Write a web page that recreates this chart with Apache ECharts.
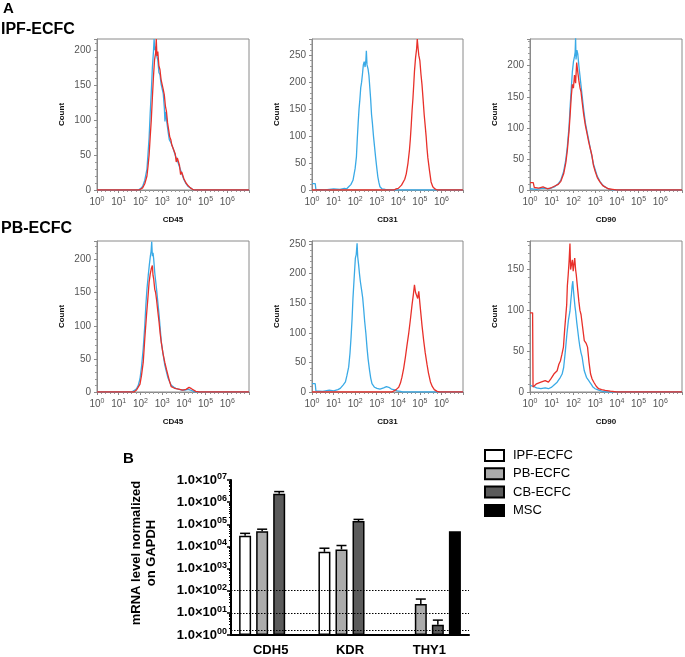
<!DOCTYPE html>
<html><head><meta charset="utf-8">
<script src="https://cdn.jsdelivr.net/npm/echarts@6/dist/echarts.min.js"></script>
<style>html,body{margin:0;padding:0;background:#fff}#c{width:685px;height:657px}</style>
</head><body><div id="c"></div>
<script>
// ---------- Panel A: flow cytometry histograms (x = log10 fluorescence, y = count) ----------
const ipfCd45Blue = [[0,0],[1.9,0],[2.0,2],[2.1,5],[2.2,14],[2.3,30],[2.35,52],[2.4,75],[2.45,110],[2.5,140],[2.55,175],[2.6,198],[2.63,216],[2.66,200],[2.7,205],[2.75,192],[2.8,186],[2.85,168],[2.9,165],[2.95,152],[3.0,150],[3.05,138],[3.1,118],[3.13,98],[3.17,112],[3.22,96],[3.28,82],[3.33,72],[3.4,68],[3.45,64],[3.5,60],[3.6,50],[3.7,42],[3.8,33],[3.9,24],[4.0,15],[4.1,9],[4.2,5],[4.3,3],[4.4,1],[4.5,0],[7,0]];
const ipfCd45Red = [[0,0],[1.9,0],[2.0,1],[2.1,3],[2.2,9],[2.3,20],[2.35,34],[2.4,50],[2.45,76],[2.5,100],[2.55,132],[2.6,162],[2.65,186],[2.7,196],[2.73,216],[2.76,192],[2.8,198],[2.85,178],[2.9,172],[2.95,158],[3.0,156],[3.05,144],[3.1,136],[3.15,120],[3.2,112],[3.25,96],[3.3,86],[3.35,76],[3.4,72],[3.45,64],[3.5,62],[3.6,52],[3.65,40],[3.7,46],[3.8,35],[3.85,22],[3.9,26],[4.0,16],[4.1,10],[4.2,6],[4.3,3],[4.4,1],[4.5,0],[7,0]];
const ipfCd31Blue = [[0,12],[0.15,12],[0.18,1],[0.6,0],[1.0,2],[1.3,1],[1.5,3],[1.6,2],[1.7,6],[1.8,10],[1.9,18],[2.0,40],[2.06,62],[2.1,95],[2.14,124],[2.18,150],[2.22,168],[2.26,190],[2.3,200],[2.34,215],[2.38,232],[2.42,238],[2.46,228],[2.5,242],[2.52,258],[2.55,232],[2.6,224],[2.64,212],[2.68,190],[2.72,168],[2.76,140],[2.8,124],[2.85,100],[2.9,80],[2.95,60],[3.0,42],[3.05,25],[3.1,14],[3.15,6],[3.25,2],[3.4,1],[3.6,0],[7,0]];
const ipfCd31Red = [[0,0],[3.8,0],[3.9,2],[4.0,3],[4.06,5],[4.15,9],[4.2,12],[4.3,20],[4.37,30],[4.45,50],[4.52,75],[4.56,95],[4.6,120],[4.64,148],[4.68,170],[4.72,198],[4.75,220],[4.8,245],[4.85,262],[4.88,280],[4.92,262],[4.95,250],[5.0,240],[5.05,215],[5.1,195],[5.15,168],[5.2,140],[5.25,118],[5.29,100],[5.33,78],[5.37,60],[5.45,35],[5.52,15],[5.6,6],[5.7,2],[5.8,0],[7,0]];
const ipfCd90Blue = [[0,2],[0.3,1],[0.6,3],[0.9,2],[1.12,5],[1.3,10],[1.42,16],[1.55,30],[1.65,49],[1.72,70],[1.8,103],[1.85,135],[1.9,163],[1.95,190],[2.0,206],[2.05,215],[2.08,222],[2.1,245],[2.12,210],[2.16,225],[2.2,219],[2.25,200],[2.3,184],[2.35,168],[2.4,152],[2.47,130],[2.55,108],[2.62,95],[2.7,81],[2.78,66],[2.85,54],[2.92,42],[3.0,33],[3.1,22],[3.22,14],[3.35,8],[3.45,5],[3.6,2],[3.8,0],[7,0]];
const ipfCd90Red = [[0,12],[0.15,12],[0.2,4],[0.4,3],[0.6,5],[0.8,2],[1.0,4],[1.12,6],[1.3,9],[1.42,14],[1.55,26],[1.65,44],[1.72,64],[1.8,96],[1.85,122],[1.9,150],[1.95,170],[2.0,164],[2.05,185],[2.1,172],[2.15,205],[2.2,190],[2.25,176],[2.3,165],[2.35,158],[2.4,142],[2.47,122],[2.55,104],[2.62,92],[2.7,78],[2.78,66],[2.85,56],[2.92,40],[3.0,30],[3.1,20],[3.22,13],[3.35,7],[3.45,5],[3.6,2],[3.8,1],[4.0,0],[7,0]];
const pbCd45Blue = [[0,0],[1.6,0],[1.7,2],[1.82,5],[1.9,10],[1.98,20],[2.05,38],[2.13,66],[2.2,100],[2.25,131],[2.3,155],[2.36,176],[2.41,192],[2.46,206],[2.49,212],[2.52,227],[2.55,205],[2.58,210],[2.61,201],[2.66,180],[2.7,168],[2.74,156],[2.8,136],[2.86,116],[2.91,96],[2.96,76],[3.04,58],[3.12,41],[3.2,30],[3.27,21],[3.35,15],[3.42,10],[3.55,7],[3.65,5],[3.8,4],[3.9,3],[4.05,3],[4.2,4],[4.3,3],[4.45,1],[4.6,0],[7,0]];
const pbCd45Red = [[0,0],[1.7,0],[1.82,3],[1.98,12],[2.05,25],[2.13,45],[2.2,80],[2.28,116],[2.34,140],[2.4,166],[2.45,178],[2.5,186],[2.55,191],[2.58,176],[2.61,171],[2.66,155],[2.7,150],[2.74,140],[2.8,122],[2.86,105],[2.91,88],[2.96,75],[3.04,58],[3.12,45],[3.2,34],[3.27,25],[3.35,15],[3.42,8],[3.55,6],[3.65,5],[3.8,4],[3.95,3],[4.1,4],[4.18,5],[4.24,7],[4.29,7],[4.35,5],[4.41,3],[4.55,1],[4.7,0],[7,0]];
const pbCd31Blue = [[0,14],[0.15,14],[0.18,2],[0.5,1],[0.8,3],[1.0,2],[1.2,4],[1.31,6],[1.45,12],[1.55,17],[1.62,28],[1.7,42],[1.76,65],[1.81,92],[1.86,125],[1.9,159],[1.95,190],[2.01,226],[2.05,232],[2.09,251],[2.12,228],[2.16,215],[2.2,200],[2.24,187],[2.3,172],[2.35,159],[2.4,138],[2.44,120],[2.5,98],[2.55,75],[2.6,56],[2.67,36],[2.72,24],[2.78,14],[2.9,8],[3.01,6],[3.15,5],[3.32,7],[3.45,9],[3.56,8],[3.68,5],[3.79,4],[3.95,2],[4.1,1],[4.2,0],[7,0]];
const pbCd31Red = [[0,0],[3.7,0],[3.79,1],[3.9,4],[4.02,8],[4.1,15],[4.17,25],[4.25,40],[4.33,59],[4.4,78],[4.48,98],[4.56,122],[4.64,148],[4.7,165],[4.75,181],[4.8,168],[4.84,170],[4.9,158],[4.95,170],[5.0,150],[5.05,131],[5.1,112],[5.18,86],[5.25,66],[5.33,47],[5.4,32],[5.49,17],[5.58,9],[5.67,4],[5.8,1],[5.9,0],[7,0]];
const pbCd90Blue = [[0,8],[0.15,7],[0.3,5],[0.5,4],[0.7,5],[0.85,4],[1.0,6],[1.12,9],[1.25,12],[1.4,18],[1.48,22],[1.55,30],[1.62,48],[1.7,71],[1.77,88],[1.84,99],[1.88,112],[1.91,120],[1.94,130],[1.97,136],[2.0,125],[2.03,116],[2.07,105],[2.1,99],[2.15,86],[2.2,75],[2.25,64],[2.3,55],[2.35,48],[2.4,43],[2.45,34],[2.5,26],[2.55,22],[2.6,18],[2.68,15],[2.75,12],[2.83,9],[2.9,6],[3.0,4],[3.1,3],[3.3,1],[3.5,0],[7,0]];
const pbCd90Red = [[0,97],[0.12,97],[0.14,6],[0.3,10],[0.5,12],[0.7,14],[0.85,12],[0.96,16],[1.1,22],[1.25,26],[1.33,34],[1.4,38],[1.47,46],[1.54,55],[1.6,78],[1.69,107],[1.72,130],[1.76,144],[1.8,160],[1.84,182],[1.87,150],[1.91,156],[1.95,162],[1.99,148],[2.03,158],[2.06,164],[2.1,150],[2.13,144],[2.18,130],[2.25,111],[2.3,100],[2.35,95],[2.42,80],[2.5,63],[2.58,60],[2.65,55],[2.72,36],[2.79,22],[2.86,16],[2.94,12],[3.05,7],[3.16,4],[3.3,3],[3.46,2],[3.7,1],[4.0,0],[7,0]];

const histMarkers = ['CD45','CD31','CD90','CD45','CD31','CD90'];
const histYMax = [216, 280, 243, 228, 255, 185];
const histYTicks = [50, 50, 50, 50, 50, 50];
const decadeTicks = [0,1,2,3,4,5,6];

// ---------- Panel B: qPCR bar chart ----------
const genes = ['CDH5','KDR','THY1'];
const groupNames = ['IPF-ECFC','PB-ECFC','CB-ECFC','MSC'];
const ipfVals = [3.0e4, 5.7e3, null];
const pbVals  = [4.8e4, 7.3e3, 25];
const cbVals  = [2.4e6, 1.4e5, 2.9];
const mscVals = [null, null, 4.9e4];
const ipfSem = [9000, 2600, null];
const pbSem  = [12000, 3700, 17];
const cbSem  = [600000, 26000, 1.8];
const mscSem = [null, null, null];
const thresholdLines = [100, 10, 1.7];
const yLogTicks = [0,1,2,3,4,5,6,7];

const FONT = 'Liberation Sans, Arial, Helvetica, sans-serif';
const BLUE = '#3aaae6', RED = '#e8302a';

const histGrids = [
  {left:97, top:39, width:152, height:151},
  {left:312, top:39, width:151, height:151},
  {left:530, top:39, width:153, height:151},
  {left:97, top:241, width:152, height:151},
  {left:312, top:241, width:151, height:151},
  {left:530, top:241, width:153, height:151}
];
const histData = [
  [ipfCd45Blue, ipfCd45Red],[ipfCd31Blue, ipfCd31Red],[ipfCd90Blue, ipfCd90Red],
  [pbCd45Blue, pbCd45Red],[pbCd31Blue, pbCd31Red],[pbCd90Blue, pbCd90Red]
];

const grids = [], xAxes = [], yAxes = [], series = [];
histGrids.forEach((g, i) => {
  grids.push(Object.assign({show:true, borderColor:'#8a8a8a', borderWidth:1, containLabel:false}, g));
  xAxes.push({
    type:'value', gridIndex:i, min:0, max:7, interval:1,
    name: histMarkers[i], nameLocation:'middle', nameGap:26,
    nameTextStyle:{fontFamily:FONT, fontWeight:'bold', fontSize:8, color:'#111'},
    axisLine:{lineStyle:{color:'#8a8a8a', width:1}},
    axisTick:{show:true, length:3, lineStyle:{color:'#8a8a8a'}},
    minorTick:{show:true, splitNumber:5, length:2, lineStyle:{color:'#9a9a9a'}},
    splitLine:{show:false},
    axisLabel:{margin:6, formatter: v => decadeTicks.includes(v) ? '{a|10}{s|' + v + '}' : '',
      rich:{a:{fontFamily:FONT, fontSize:10, color:'#555'}, s:{fontFamily:FONT, fontSize:7, color:'#555', padding:[0,0,6,0]}}}
  });
  yAxes.push({
    type:'value', gridIndex:i, min:0, max:histYMax[i], interval:histYTicks[i],
    name:'Count', nameLocation:'middle', nameGap:31, nameRotate:90,
    nameTextStyle:{fontFamily:FONT, fontWeight:'bold', fontSize:8, color:'#111'},
    axisLine:{show:true, lineStyle:{color:'#8a8a8a', width:1}},
    axisTick:{show:true, length:3, lineStyle:{color:'#8a8a8a'}},
    minorTick:{show:true, splitNumber:5, length:2, lineStyle:{color:'#9a9a9a'}},
    splitLine:{show:false},
    axisLabel:{margin:6, fontFamily:FONT, fontSize:10, color:'#555', formatter: v => (v % histYTicks[i] === 0 ? String(v) : '')}
  });
  const [b, r] = histData[i];
  series.push({type:'line', xAxisIndex:i, yAxisIndex:i, data:b, showSymbol:false, symbol:'none', silent:true,
    lineStyle:{color:BLUE, width:1.3}, z:2});
  series.push({type:'line', xAxisIndex:i, yAxisIndex:i, data:r, showSymbol:false, symbol:'none', silent:true,
    lineStyle:{color:RED, width:1.3}, z:3});
});

// bar chart grid
const BI = 6;
grids.push({left:231, top:480, width:238, height:157, containLabel:false});
xAxes.push({
  type:'category', gridIndex:BI, data:genes,
  axisLine:{lineStyle:{color:'#000', width:2}},
  axisTick:{alignWithLabel:true, length:4, lineStyle:{color:'#000', width:1.5}},
  axisLabel:{margin:9, fontFamily:FONT, fontWeight:'bold', fontSize:13, color:'#000'}
});
yAxes.push({
  type:'log', gridIndex:BI, logBase:10, min:1, max:1e7,
  splitLine:{show:false},
  axisLine:{show:true, lineStyle:{color:'#000', width:2}},
  axisTick:{show:true, length:4, lineStyle:{color:'#000', width:1.5}},
  minorTick:{show:true, splitNumber:9, length:2, lineStyle:{color:'#000'}},
  axisLabel:{margin:4, formatter: v => {
      const e = Math.round(Math.log10(v));
      return yLogTicks.includes(e) ? '{a|1.0×10}{s|0' + e + '}' : '';
    },
    rich:{a:{fontFamily:FONT, fontWeight:'bold', fontSize:13, color:'#000'},
          s:{fontFamily:FONT, fontWeight:'bold', fontSize:9, color:'#000', padding:[0,0,7,0]}}}
});

const barVals = [ipfVals, pbVals, cbVals, mscVals];
const barSems = [ipfSem, pbSem, cbSem, mscSem];
const barColors = ['#ffffff', '#ababab', '#5b5b5b', '#000000'];
barVals.forEach((vals, s) => {
  const sObj = {
    type:'bar', name:groupNames[s], xAxisIndex:BI, yAxisIndex:BI, data:vals,
    barWidth:12, barGap:'42%',
    itemStyle:{color:barColors[s], borderColor:'#000', borderWidth:1.5}
  };
  if (s === 3) {
    sObj.markLine = {symbol:'none', silent:true, label:{show:false},
      lineStyle:{type:[1.5,1.5], color:'#000', width:1},
      data: thresholdLines.map(v => ({yAxis:v}))};
  }
  series.push(sObj);
});
const errData = [];
barVals.forEach((vals, s) => vals.forEach((v, c) => {
  if (v != null && barSems[s][c] != null) errData.push([c, s, v, v + barSems[s][c]]);
}));
series.push({
  type:'custom', xAxisIndex:BI, yAxisIndex:BI, data:errData, silent:true, z:5,
  encode:{x:0, y:3},
  renderItem:(params, api) => {
    const c = api.value(0), s = api.value(1), v = api.value(2), t = api.value(3);
    const p0 = api.coord([c, v]), p1 = api.coord([c, t]);
    const x = p0[0] + (s - 1.5) * 17.04;
    return {type:'group', children:[
      {type:'line', shape:{x1:x, y1:p0[1], x2:x, y2:p1[1]}, style:{stroke:'#000', lineWidth:1.5}},
      {type:'line', shape:{x1:x-5, y1:p1[1], x2:x+5, y2:p1[1]}, style:{stroke:'#000', lineWidth:1.5}}
    ]};
  }
});

const chart = echarts.init(document.getElementById('c'), null, {renderer:'canvas'});
chart.setOption({
  animation:false,
  backgroundColor:'#fff',
  textStyle:{fontFamily:FONT},
  grid:grids, xAxis:xAxes, yAxis:yAxes, series:series,
  legend:{
    data:groupNames, orient:'vertical', left:484, top:449, padding:0, itemWidth:19, itemHeight:11, itemGap:5.3,
    icon:'rect', selectedMode:false,
    textStyle:{fontFamily:FONT, fontSize:13, color:'#000', padding:[0,0,0,4]}
  },
  graphic:[
    {type:'text', left:3, top:1, style:{text:'A', font:'bold 15px ' + FONT, fill:'#000'}},
    {type:'text', left:1, top:22, style:{text:'IPF-ECFC', font:'bold 16px ' + FONT, fill:'#000'}},
    {type:'text', left:1, top:221, style:{text:'PB-ECFC', font:'bold 16px ' + FONT, fill:'#000'}},
    {type:'text', left:123, top:451, style:{text:'B', font:'bold 15px ' + FONT, fill:'#000'}},
    {type:'text', x:144, y:553, rotation:Math.PI/2, style:{text:'mRNA level normalized\non GAPDH', font:'bold 13px ' + FONT, fill:'#000', lineHeight:15, align:'center', verticalAlign:'middle'}}
  ]
});
</script></body></html>
